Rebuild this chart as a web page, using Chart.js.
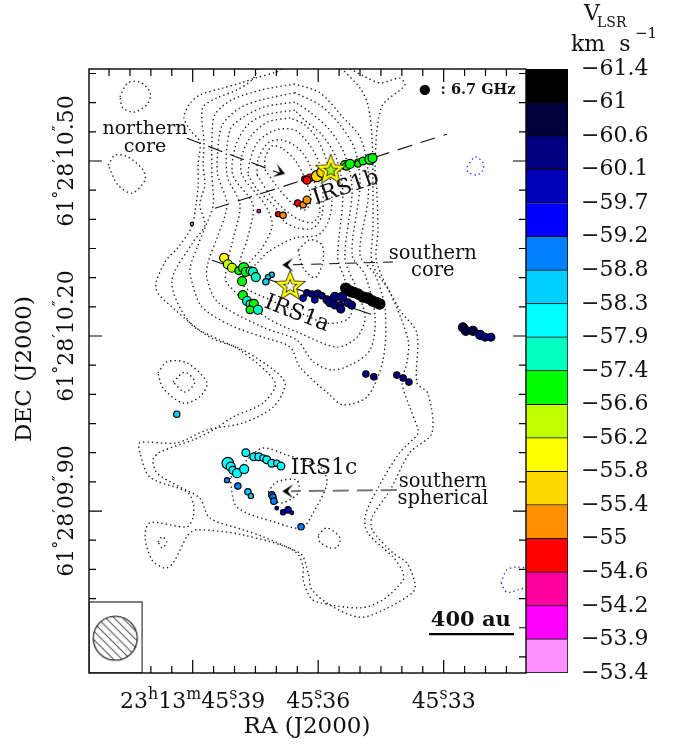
<!DOCTYPE html>
<html>
<head>
<meta charset="utf-8">
<title>IRS1 masers</title>
<script src="https://cdn.jsdelivr.net/npm/chart.js@4/dist/chart.umd.min.js"></script>
<style>
  body { margin: 0; background: #fff; }
  #wrap { position: relative; width: 681px; height: 745px; }
  canvas { position: absolute; left: 0; top: 0; }
</style>
</head>
<body>
<div id="wrap">
  <canvas id="map" width="681" height="745"></canvas>
  <canvas id="bar" width="681" height="745"></canvas>
</div>
<script>
// x values: RA in ms of time after 23h13m45.30s, y values: Dec in mas after 61d28'10"
const raMin = 10.32, raMax = 114.79;
const decMin = -377.6, decMax = 657.7;

const raTicks = [110, 105, 100, 95, 90, 85, 80, 75, 70, 65, 60, 55, 50, 45, 40, 35, 30, 25, 20, 15];
const raMajor = [90, 60, 30];
const decTicks = [650, 600, 550, 500, 450, 400, 350, 300, 250, 200, 150, 100, 50, 0, -50, -100, -150, -200, -250, -300, -350];
const decMajor = [500, 200, -100];

// colour bar
const velocityEdges = [-61.4, -61, -60.6, -60.1, -59.7, -59.2, -58.8, -58.3, -57.9, -57.4, -56.6, -56.2, -55.8, -55.4, -55, -54.6, -54.2, -53.9, -53.4];
const velocityColors = ['#000000', '#00003c', '#000080', '#0000b8', '#0000ff', '#0080ff', '#00d0ff', '#00ffff', '#00ffc0', '#00ff00', '#c0ff00', '#ffff00', '#ffd800', '#ff9000', '#ff0000', '#ff00a0', '#ff00ff', '#ff90ff'];

// masers, flux in arbitrary units
const irs1bRa = [63.2, 62.0, 62.7, 60.3, 59.1, 57.2, 53.6, 53.2, 52.4, 50.5, 50.5, 49.3, 47.6, 47.0, 64.9, 63.6, 62.7, 69.6, 68.4, 74.2, 90.2];
const irs1bDec = [469, 471, 467, 474, 481, 485, 493, 491, 495, 498, 495, 500, 503, 505, 428, 425, 433, 409, 407, 414, 392];
const irs1bV = [-54.8, -54.8, -54.8, -55.6, -55.6, -56.4, -57, -57, -57, -57, -57, -57, -57, -57, -54.8, -55.2, -55.2, -54.8, -55.2, -54, -53.6];
const irs1bFlux = [6, 9, 9, 18, 16, 16, 12, 9, 12, 6, 6, 9, 16, 12, 6, 6, 9, 4, 6, 2, 1.5];

const irs1aWestRa = [82.5, 81.6, 80.6, 79.0, 77.8, 77.3, 76.3, 75.6, 74.9, 78.2, 71.1, 72.0, 72.5, 78.0, 77.0, 76.3, 75.4, 76.3, 74.4];
const irs1aWestDec = [334, 323, 317, 312, 317, 310, 312, 310, 301, 294, 305, 301, 293, 270, 260, 255, 255, 245, 245];
const irs1aWestV = [-56, -56.4, -56.4, -57, -57, -57, -57.6, -57.6, -57.6, -57, -58.5, -58.5, -58.5, -57, -57.6, -57.6, -57, -57, -57.6];
const irs1aWestFlux = [12, 12, 12, 9, 16, 12, 9, 12, 12, 12, 4, 4, 6, 12, 12, 9, 12, 9, 12];

const irs1aEastRa = [63.6, 62.7, 61.5, 60.8, 60.1, 59.1, 57.9, 57.2, 56.0, 54.3, 56.0, 54.8, 54.6, 52.9, 52.0, 53.4, 52.4, 51.7, 50.5, 49.3, 48.1, 47.0, 46.0, 45.3];
const irs1aEastDec = [265, 274, 272, 262, 272, 269, 262, 257, 267, 267, 253, 252, 246, 257, 253, 282, 277, 275, 272, 267, 265, 260, 257, 255];
const irs1aEastV = [-59.9, -60.4, -60.4, -59.9, -60.4, -60.4, -60.4, -60.4, -60.4, -60.4, -60.4, -60.4, -60.4, -60.4, -60.4, -61.2, -61.2, -61.2, -61.2, -61.2, -61.2, -61.2, -61.2, -61.2];
const irs1aEastFlux = [6, 6, 6, 6, 9, 6, 9, 9, 12, 12, 9, 9, 9, 9, 9, 16, 16, 16, 16, 16, 16, 16, 16, 16];

const irs1cRa = [81.6, 80.9, 80.4, 79.4, 77.7, 77.3, 75.4, 74.2, 73.2, 72.3, 71.1, 69.9, 68.9, 81.8, 79.2, 76.8, 76.1, 71.1, 70.8, 70.6, 69.9, 68.4, 67.2, 66.3, 64.1];
const irs1cDec = [-18, -24, -30, -35, -28, 0, -7, -7, -9, -12, -18, -18, -23, -47, -57, -67, -74, -72, -76, -83, -95, -102, -98, -103, -127];
const irs1cV = [-58.1, -58.1, -58.1, -58.1, -58.1, -58.1, -58.1, -58.1, -58.1, -58.1, -58.1, -58.1, -58.1, -59, -59, -58.5, -58.5, -59, -59, -59, -59.9, -59.9, -59.9, -59.9, -59];
const irs1cFlux = [20, 12, 9, 12, 12, 9, 9, 9, 6, 9, 9, 6, 9, 4, 6, 6, 4, 6, 6, 6, 2, 4, 6, 2, 6];

const outerRa = [25.4, 24.7, 23.0, 21.3, 20.1, 18.7, 48.6, 46.7, 41.2, 39.7, 38.3, 93.8];
const outerDec = [215, 209, 209, 202, 198, 198, 135, 130, 133, 128, 121, 66];
const outerV = [-60.8, -60.8, -60.8, -60.4, -60.4, -60.4, -60.4, -60.4, -60.4, -60.4, -60.4, -58.5];
const outerFlux = [12, 12, 12, 12, 9, 9, 6, 6, 6, 6, 6, 6];

// continuum contours
const contourA = [[68.7,658],[69.8,653],[75.1,642],[78.0,635],[82.8,625],[88.3,613],[90.6,599],[92.1,575],[90.6,553],[88.3,533],[88.7,493],[88.7,459],[89.2,425],[90.3,386],[93.5,352],[96.6,327],[98.8,282],[94.7,248],[85.9,198],[78.0,176],[69.8,137],[67.9,116],[70.8,78],[78.0,51],[86.6,39],[93.8,17],[102.6,17],[102.6,0],[100.2,-42],[91.4,-67],[89.9,-86],[89.9,-110],[91.4,-127],[100.2,-120],[101.4,-144],[99.7,-184],[96.6,-198],[94.7,-189],[91.1,-141],[89.0,-132],[78.0,-141],[64.4,-172],[62.4,-206],[61.5,-235],[56.5,-264],[50.0,-282],[44.5,-270],[37.3,-239],[36.9,-223],[38.8,-189],[42.1,-172],[47.1,-132],[47.1,-110],[42.8,-64],[38.1,0],[32.8,34],[33.8,102],[36.4,120],[36.4,205],[40.5,245],[46.0,327],[45.7,382],[46.0,450],[46.4,502],[44.8,593],[39.3,630],[40.5,642],[45.2,634],[49.5,647],[52.4,658]];
const contourB = [[74.4,658],[75.8,639],[79.4,622],[84.2,608],[87.5,593],[87.8,570],[87.3,533],[87.5,493],[87.1,459],[88.3,425],[87.1,390],[90.0,360],[95.0,293],[90.6,222],[83.5,193],[78.7,176],[70.3,120],[73.2,85],[80.4,61],[85.1,39],[89.9,22],[97.8,1],[99.5,-12],[98.5,-35],[93.0,-59],[88.3,-78],[85.9,-112],[78.0,-132],[73.2,-144],[65.1,-172],[63.6,-196],[63.6,-218],[62.0,-247],[60.3,-256],[50.0,-266],[44.5,-252],[39.7,-218],[40.0,-201],[42.1,-179],[48.1,-138],[48.8,-110],[46.0,-64],[40.5,0],[36.4,30],[36.1,39],[38.1,78],[40.0,121],[38.8,154],[38.5,193],[42.8,274],[47.1,325],[46.9,382],[46.9,445],[47.1,536],[48.1,596],[50.0,625],[54.3,658]];
const contourL3 = [[65.6,632],[73.4,622],[80.6,605],[84.7,579],[85.4,536],[85.4,476],[85.1,425],[87.1,385],[89.0,351],[90.6,317],[90.2,293],[87.8,250],[81.1,219],[73.2,198],[66.7,181],[64.4,147],[57.2,99],[54.1,82],[48.3,96],[44.5,159],[44.0,245],[46.4,305],[50.0,339],[48.1,433],[48.1,485],[50.0,541],[54.1,575],[59.6,617],[65.6,632]];
const contourL4 = [[65.6,617],[73.4,605],[78.7,591],[82.9,562],[84.0,519],[84.0,476],[81.8,425],[84.2,368],[86.3,327],[86.6,299],[84.0,258],[73.2,215],[65.1,193],[61.2,156],[56.7,142],[52.4,150],[47.6,176],[46.4,233],[48.8,305],[51.9,339],[50.0,459],[51.2,519],[54.8,562],[59.6,596],[65.6,617]];
const contourL5 = [[65.6,601],[72.7,593],[77.5,577],[81.1,553],[81.8,476],[78.7,425],[80.4,365],[81.8,322],[81.8,291],[72.2,231],[64.4,205],[55.5,181],[50.7,198],[48.8,233],[51.2,287],[53.6,334],[51.9,450],[53.6,510],[57.2,553],[62.0,584],[65.6,601]];
const contourL6 = [[65.6,587],[72.7,579],[76.8,562],[79.7,527],[80.4,476],[75.6,425],[77.0,365],[78.7,327],[78.0,287],[71.5,262],[64.4,240],[57.9,222],[53.1,228],[51.9,245],[53.6,296],[55.3,334],[54.1,442],[55.5,502],[59.1,545],[63.2,570],[65.6,587]];
const contourL7 = [[66.7,574],[72.0,567],[75.8,545],[78.2,510],[78.2,476],[72.7,425],[71.0,390],[73.4,351],[76.3,327],[77.0,313],[74.9,323],[72.0,344],[65.6,368],[60.1,373],[57.7,394],[56.7,433],[57.7,493],[60.1,536],[63.2,562],[66.7,574]];
const contourL8 = [[76.8,476],[74.4,450],[70.3,421],[67.9,395],[64.8,385],[61.2,385],[59.1,407],[58.9,450],[59.6,493],[62.0,527],[65.6,553],[70.3,553],[74.4,533],[76.3,502],[76.8,476]];
const contourL9 = [[74.6,476],[71.5,442],[67.9,416],[64.4,399],[61.2,395],[59.6,413],[60.5,450],[62.0,493],[64.8,522],[68.7,536],[72.0,531],[74.4,502],[74.6,476]];
const contourL10 = [[72.7,485],[69.6,454],[66.3,428],[63.2,416],[61.7,433],[63.2,471],[65.6,502],[68.7,522],[71.0,526],[72.7,505],[72.7,485]];
const contourSouthCore = [[64.8,347],[63.6,317],[60.8,300],[58.9,327],[59.1,356],[62.0,365],[64.8,347]];
const contourNorthA = [[107.4,610],[105.5,634],[102.6,635],[100.2,618],[100.7,599],[103.8,584],[106.7,591],[107.4,610]];
const contourNorthB = [[110.2,493],[108.6,510],[105.5,507],[101.9,485],[101.4,467],[104.5,445],[107.9,459],[110.2,493]];
const contourWestA = [[98.3,137],[96.1,156],[91.4,154],[86.6,120],[88.3,96],[92.3,85],[97.1,111],[98.3,137]];
const contourWestB = [[94.7,121],[91.9,138],[89.5,121],[91.9,104],[94.7,121]];
const contourTiny = [[98.3,-153],[97.3,-144],[96.2,-153],[97.3,-163],[98.3,-153]];
const contourIrs1c = [[81.1,-43],[79.4,-93],[69.9,-120],[63.9,-129],[61.2,-103],[57.9,-52],[59.6,-24],[67.5,-4],[73.2,8],[77.0,-12],[78.7,-30],[81.1,-43]];
const contourSpherical = [[72.0,-67],[69.9,-50],[65.1,-47],[64.8,-69],[68.4,-86],[70.8,-81],[72.0,-67]];
const contourSouthEast = [[60.0,-141],[57.9,-129],[54.8,-146],[55.5,-162],[57.2,-163],[59.6,-153],[60.0,-141]];
const negativeA = [[24.4,490],[22.5,507],[20.6,497],[20.6,485],[22.0,476],[24.2,481],[24.4,490]];
const negativeB = [[16.3,-223],[14.9,-201],[12.5,-196],[9.4,-201],[9.4,-227],[12.2,-235],[14.9,-239],[16.3,-223]];

const irs1bAxis = [[84.7,419],[29.2,546]];
const irs1aAxis = [[85.4,330],[46.0,234]];
const northernArrow = [[91.4,539],[69.2,479]];
const southernCoreArrow = [[42.1,327],[66.5,322]];
const sphericalArrow = [[41.2,-64],[66.5,-66]];
const scaleBar = [[33.5,-311],[13.2,-311]];
const beamBox = [[raMax,-256],[102.1,-256],[102.1,decMin],[raMax,decMin],[raMax,-256]];

function velocityColor(v) {
    for (let i = 0; i < velocityColors.length; i++) {
        if (v < velocityEdges[i + 1]) return velocityColors[i];
    }
    return velocityColors[velocityColors.length - 1];
}

function makeCanvas(w, h, fn) {
    const c = document.createElement('canvas');
    c.width = w;
    c.height = h;
    fn(c.getContext('2d'), w, h);
    return c;
}

function starPath(ctx, cx, cy, R, r) {
    ctx.beginPath();
    for (let i = 0; i < 10; i++) {
        const a = -Math.PI / 2 + i * Math.PI / 5;
        const d = i % 2 ? r : R;
        ctx.lineTo(cx + d * Math.cos(a), cy + d * Math.sin(a));
    }
    ctx.closePath();
}

function makeStar(fill) {
    return makeCanvas(34, 34, (ctx) => {
        ctx.lineJoin = 'miter';
        starPath(ctx, 17, 17.5, 11.5, 5);
        ctx.fillStyle = fill;
        ctx.fill();
        ctx.lineWidth = 4;
        ctx.strokeStyle = '#000';
        ctx.stroke();
        ctx.lineWidth = 2.6;
        ctx.strokeStyle = '#ffff00';
        ctx.stroke();
    });
}

// arrow head pointing left, the tip on the image centre
const arrowHead = makeCanvas(26, 18, (ctx) => {
    ctx.fillStyle = '#000';
    ctx.beginPath();
    ctx.moveTo(13, 9);
    ctx.lineTo(24, 2);
    ctx.lineTo(18.5, 9);
    ctx.lineTo(24, 16);
    ctx.closePath();
    ctx.fill();
});

const beamImage = makeCanvas(48, 48, (ctx) => {
    ctx.save();
    ctx.beginPath();
    ctx.arc(24, 24, 22, 0, Math.PI * 2);
    ctx.clip();
    ctx.strokeStyle = '#000';
    ctx.lineWidth = 1;
    for (let d = -48; d < 48; d += 8.4) {
        ctx.beginPath();
        ctx.moveTo(d, 0);
        ctx.lineTo(d + 48, 48);
        ctx.stroke();
    }
    ctx.restore();
    ctx.beginPath();
    ctx.arc(24, 24, 22, 0, Math.PI * 2);
    ctx.lineWidth = 1.1;
    ctx.strokeStyle = '#000';
    ctx.stroke();
});

function contour(data, color) {
    return {
        data: data, showLine: true, pointRadius: 0, tension: 0.3,
        borderColor: color || '#222', borderWidth: 1.4, borderDash: [1.4, 3]
    };
}

function dashed(data, dash, width, color) {
    return {
        data: data, showLine: true, pointRadius: 0,
        borderColor: color || '#111', borderWidth: width || 1.1, borderDash: dash
    };
}

const maserRa = [].concat(irs1cRa, outerRa, irs1aEastRa, irs1aWestRa, irs1bRa);
const maserDec = [].concat(irs1cDec, outerDec, irs1aEastDec, irs1aWestDec, irs1bDec);
const maserV = [].concat(irs1cV, outerV, irs1aEastV, irs1aWestV, irs1bV);
const maserFlux = [].concat(irs1cFlux, outerFlux, irs1aEastFlux, irs1aWestFlux, irs1bFlux);

const datasets = [
    // first dataset ends up on top
    { data: [[57, 485]], pointStyle: makeStar('#a8f020'), pointRadius: 5 },
    { data: [[66.7, 286]], pointStyle: makeStar('#ffffff'), pointRadius: 5 },
    { data: [[34.5, 622]], pointRadius: 5.2, pointBackgroundColor: '#000', pointBorderWidth: 0 },
    {
        data: maserRa.map((ra, i) => [ra, maserDec[i]]),
        pointRadius: maserFlux.map(f => 1.3 * Math.sqrt(f)),
        pointBackgroundColor: maserV.map(velocityColor),
        pointBorderColor: '#000',
        pointBorderWidth: 1.2
    },
    { data: [[67.9, 478]], pointStyle: arrowHead, pointRadius: 5, pointRotation: 198 },
    { data: [[68.6, 322], [68.6, -66]], pointStyle: arrowHead, pointRadius: 5 },
    { data: [[108.5, -318]], pointStyle: beamImage, pointRadius: 5 },
    { data: beamBox, showLine: true, pointRadius: 0, borderColor: '#555', borderWidth: 1.4, backgroundColor: '#fff', fill: 'shape' },
    dashed(scaleBar, [], 2.2, '#000'),
    dashed(irs1bAxis, [15, 9]),
    dashed(irs1aAxis, [18, 12]),
    dashed(northernArrow, [15, 8]),
    dashed(southernCoreArrow, [10, 8]),
    dashed(sphericalArrow, [16, 8], 2, '#777'),
    contour(contourL10), contour(contourL9), contour(contourL8), contour(contourL7),
    contour(contourL6), contour(contourL5), contour(contourL4), contour(contourL3),
    contour(contourB), contour(contourA),
    contour(contourSouthCore), contour(contourNorthA), contour(contourNorthB),
    contour(contourWestA), contour(contourWestB), contour(contourTiny),
    contour(contourIrs1c), contour(contourSpherical), contour(contourSouthEast),
    contour(negativeA, '#3030ff'), contour(negativeB, '#3030ff')
];

const serif = '"DejaVu Serif", serif';

// text with superscript parts, centred on cx
function drawRuns(ctx, runs, cx, y, size) {
    let total = 0;
    const supSize = size * 0.72;
    runs.forEach((r) => {
        ctx.font = (r.sup ? supSize : size) + 'px ' + serif;
        r.w = ctx.measureText(r.t).width + (r.gap || 0);
        total += r.w;
    });
    let x = cx - total / 2;
    ctx.textAlign = 'left';
    ctx.textBaseline = 'alphabetic';
    runs.forEach((r) => {
        ctx.font = (r.sup ? supSize : size) + 'px ' + serif;
        ctx.fillText(r.t, x, r.sup ? y - size * 0.42 : y);
        x += r.w;
    });
}

const mapLabels = [
    { text: 'northern', ra: 101.4, dec: 555, size: 19 },
    { text: 'core', ra: 101.4, dec: 524, size: 19 },
    { text: 'southern', ra: 32.6, dec: 341, size: 19.5 },
    { text: 'core', ra: 32.6, dec: 311, size: 19.5 },
    { text: 'southern', ra: 30.2, dec: -50, size: 19.5 },
    { text: 'spherical', ra: 30.2, dec: -79, size: 19.5 },
    { text: 'IRS1b', ra: 53.4, dec: 454, size: 22, rot: -19 },
    { text: 'IRS1a', ra: 65.1, dec: 238, size: 22, rot: 21 },
    { text: 'IRS1c', ra: 58.6, dec: -26, size: 22 },
    { text: '400 au', ra: 23.5, dec: -288, size: 21, bold: true },
    { text: ': 6.7 GHz', ra: 21.8, dec: 622, size: 14.5, bold: true }
];

const raLabels = [
    [{ t: '23' }, { t: 'h', sup: true }, { t: '13' }, { t: 'm', sup: true }, { t: '45' }, { t: 's', sup: true, gap: -7 }, { t: '.39' }],
    [{ t: '45' }, { t: 's', sup: true, gap: -7 }, { t: '.36' }],
    [{ t: '45' }, { t: 's', sup: true, gap: -7 }, { t: '.33' }]
];
const decLabels = [
    [{ t: '61' }, { t: '°', sup: true }, { t: '28' }, { t: '′', sup: true }, { t: '10' }, { t: '″', sup: true, gap: -5 }, { t: '.50' }],
    [{ t: '61' }, { t: '°', sup: true }, { t: '28' }, { t: '′', sup: true }, { t: '10' }, { t: '″', sup: true, gap: -5 }, { t: '.20' }],
    [{ t: '61' }, { t: '°', sup: true }, { t: '28' }, { t: '′', sup: true }, { t: '09' }, { t: '″', sup: true, gap: -5 }, { t: '.90' }]
];

const frame = {
    id: 'frame',
    beforeDatasetsDraw(chart) {
        const { ctx, chartArea: a, scales: { x, y } } = chart;
        ctx.save();
        ctx.strokeStyle = '#000';
        ctx.lineWidth = 1.2;
        ctx.beginPath();
        x.ticks.forEach((t) => {
            const px = x.getPixelForValue(t.value);
            const len = t.major ? 13 : 7;
            ctx.moveTo(px, a.bottom); ctx.lineTo(px, a.bottom - len);
            ctx.moveTo(px, a.top); ctx.lineTo(px, a.top + len);
        });
        y.ticks.forEach((t) => {
            const py = y.getPixelForValue(t.value);
            const len = t.major ? 13 : 7;
            ctx.moveTo(a.left, py); ctx.lineTo(a.left + len, py);
            ctx.moveTo(a.right, py); ctx.lineTo(a.right - len, py);
        });
        ctx.stroke();
        ctx.restore();
    },
    afterDatasetsDraw(chart) {
        const { ctx, chartArea: a } = chart;
        ctx.save();
        ctx.strokeStyle = '#000';
        ctx.lineWidth = 1.4;
        ctx.strokeRect(a.left, a.top, a.right - a.left, a.bottom - a.top);
        ctx.restore();
    },
    afterDraw(chart) {
        const { ctx, scales: { x, y } } = chart;
        ctx.save();
        ctx.fillStyle = '#111';
        ctx.textAlign = 'center';
        ctx.textBaseline = 'middle';
        mapLabels.forEach((l) => {
            ctx.save();
            ctx.translate(x.getPixelForValue(l.ra), y.getPixelForValue(l.dec));
            ctx.rotate((l.rot || 0) * Math.PI / 180);
            ctx.font = (l.bold ? 'bold ' : '') + l.size + 'px ' + serif;
            ctx.fillText(l.text, 0, 0);
            ctx.restore();
        });

        raMajor.forEach((v, i) => drawRuns(ctx, raLabels[i], x.getPixelForValue(v), 708, 22));
        decMajor.forEach((v, i) => {
            ctx.save();
            ctx.translate(73, y.getPixelForValue(v));
            ctx.rotate(-Math.PI / 2);
            drawRuns(ctx, decLabels[i], 0, 0, 22);
            ctx.restore();
        });

        ctx.textAlign = 'center';
        ctx.textBaseline = 'middle';
        ctx.font = '23px ' + serif;
        ctx.fillText('RA (J2000)', 307, 727);
        ctx.save();
        ctx.translate(25, 369);
        ctx.rotate(-Math.PI / 2);
        ctx.fillText('DEC (J2000)', 0, 0);
        ctx.restore();

        // colour bar title
        ctx.textAlign = 'left';
        ctx.textBaseline = 'alphabetic';
        ctx.font = '22px ' + serif;
        ctx.fillText('V', 584, 20);
        ctx.font = '14px ' + serif;
        ctx.fillText('LSR', 597, 27);
        ctx.font = '22px ' + serif;
        ctx.fillText('km  s', 571, 51);
        ctx.font = '15px ' + serif;
        ctx.fillText('−1', 635, 38);
        ctx.restore();
    }
};

new Chart(document.getElementById('map'), {
    type: 'scatter',
    data: { datasets: datasets },
    options: {
        responsive: false,
        animation: false,
        events: [],
        layout: { padding: { top: 69, right: 155, left: 0, bottom: 0 } },
        plugins: { legend: { display: false }, tooltip: { enabled: false } },
        scales: {
            x: {
                type: 'linear', reverse: true, min: raMin, max: raMax,
                ticks: { display: false }, grid: { display: false }, border: { display: false },
                afterBuildTicks(s) { s.ticks = raTicks.map(v => ({ value: v, major: raMajor.includes(v) })); },
                afterFit(s) { s.height = 72; }
            },
            y: {
                type: 'linear', min: decMin, max: decMax,
                ticks: { display: false }, grid: { display: false }, border: { display: false },
                afterBuildTicks(s) { s.ticks = decTicks.map(v => ({ value: v, major: decMajor.includes(v) })); },
                afterFit(s) { s.width = 89; }
            }
        }
    },
    plugins: [frame]
});

new Chart(document.getElementById('bar'), {
    type: 'bar',
    data: {
        labels: ['VLSR'],
        datasets: velocityColors.map((c) => ({
            data: [1], backgroundColor: c, borderColor: '#000', borderWidth: 1,
            barPercentage: 1, categoryPercentage: 1
        }))
    },
    options: {
        responsive: false,
        animation: false,
        events: [],
        layout: { padding: { top: 69, bottom: 72, left: 526, right: 0 } },
        plugins: { legend: { display: false }, tooltip: { enabled: false } },
        scales: {
            x: { stacked: true, display: false },
            y: {
                stacked: true, position: 'right', reverse: true, min: 0, max: velocityColors.length,
                grid: { display: false }, border: { display: false },
                ticks: {
                    stepSize: 1, autoSkip: false, padding: 5, color: '#111',
                    font: { family: 'DejaVu Serif', size: 22 },
                    callback: (v) => String(velocityEdges[v]).replace('-', '−')
                },
                afterFit(s) { s.width = 113; }
            }
        }
    }
});
</script>
</body>
</html>
